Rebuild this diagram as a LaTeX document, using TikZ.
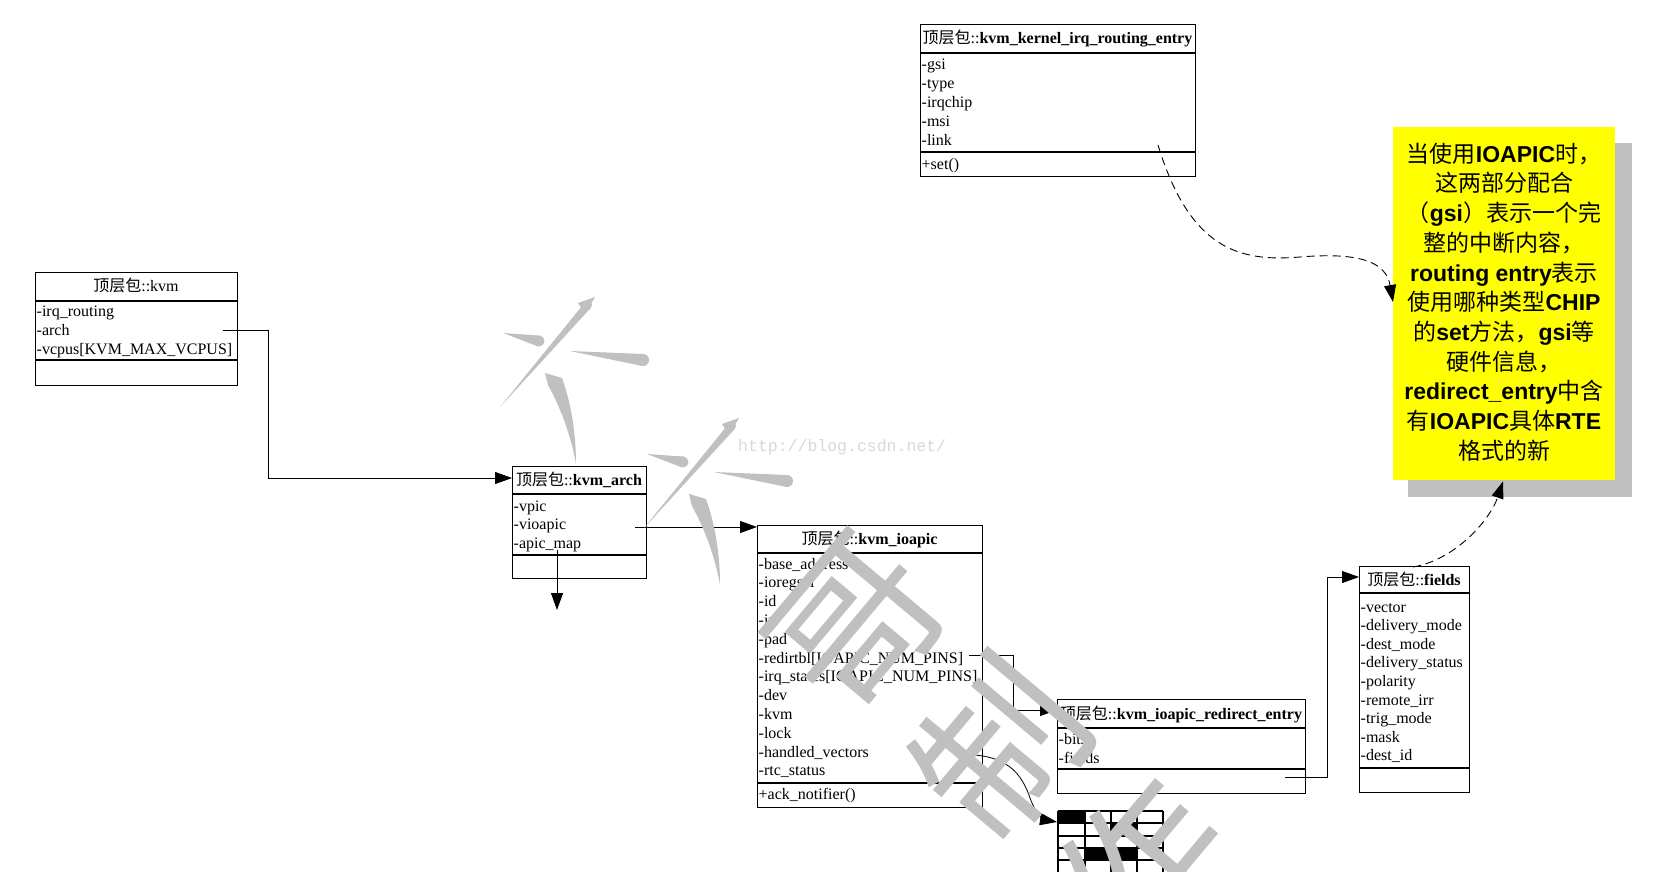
\documentclass[tikz,border=0pt]{standalone}
\usepackage{fontspec}
\setmainfont{Liberation Serif}
\newfontfamily\cjk{Noto Sans CJK SC}
\newfontfamily\arialf{Liberation Sans}
\newfontfamily\monof{Liberation Mono}
\usetikzlibrary{arrows.meta,calc}
\definecolor{wmgray}{HTML}{C0C0C0}
\definecolor{notey}{HTML}{FFFF00}
\definecolor{shad}{HTML}{C0C0C0}
\definecolor{urlgray}{HTML}{D9D9D9}
\newcommand\hd[1]{{\cjk 顶层包}::#1}
\newcommand\lb[1]{{\arialf\bfseries #1}}
\newcommand\attrlist[5]{\foreach \itemtxt [count=\i] in {#5} {\node[attr] (#1-\i) at (#2, {#3+(\i-1)*#4}) {\itemtxt};}}
\newcommand\taper[3]{\fill[wm] #1 -- ($#2!#3!90:#1$) -- ($#2!#3!-90:#1$) -- cycle; \fill[wm] #2 circle (#3);}
\begin{document}
\begin{tikzpicture}[x=1pt,y=-1pt,
  umlbox/.style={draw=black, line width=1.2pt, inner sep=0pt, anchor=north west},
  sepline/.style={line width=1.1pt},
  attr/.style={anchor=base west, inner sep=0pt, font=\fontsize{16}{19}\selectfont},
  hdr/.style={anchor=base, inner sep=0pt, font=\fontsize{16}{19}\selectfont},
  conn/.style={line width=0.9pt, -{Triangle[length=17pt,width=12pt]}},
  dconn/.style={conn, dash pattern=on 8pt off 5pt},
  wm/.style={fill=wmgray, draw=none},
  wmtext/.style={rotate=50, inner sep=0pt, text=wmgray, font=\cjk\fontsize{165}{165}\selectfont},
]
\useasboundingbox (0,0) rectangle (1667,872);
\fill[white] (0,0) rectangle (1667,872);

% ---------- kvm ----------
\node[umlbox, minimum width=202pt, minimum height=113pt] (kvm) at (35,272) {};
\draw[sepline] (35,301) -- (237,301);
\draw[sepline] (35,360) -- (237,360);
\node[hdr] (kvm-h) at (136,291.5) {\hd{kvm}};
\attrlist{kvm}{36.5}{316}{19}{-irq\_routing,-arch,{-vcpus[KVM\_MAX\_VCPUS]}}

% ---------- kvm_arch ----------
\node[umlbox, minimum width=134pt, minimum height=112pt] (arch) at (512,466) {};
\draw[sepline] (512,494) -- (646,494);
\draw[sepline] (512,555) -- (646,555);
\node[hdr] (arch-h) at (579,485.5) {\hd{\textbf{kvm\_arch}}};
\attrlist{arch}{513.5}{511}{18.6}{-vpic,-vioapic,-apic\_map}

% ---------- kvm_ioapic ----------
\node[umlbox, minimum width=225pt, minimum height=282pt] (ioapic) at (757,525) {};
\draw[sepline] (757,553) -- (982,553);
\draw[sepline] (757,783) -- (982,783);
\node[hdr] (ioapic-h) at (869.5,544.5) {\hd{\textbf{kvm\_ioapic}}};
\attrlist{ioapic}{758.5}{569}{18.8}{-base\_address,-ioregsel,-id,-irr,-pad,{-redirtbl[IOAPIC\_NUM\_PINS]},{-irq\_states[IOAPIC\_NUM\_PINS]},-dev,-kvm,-lock,-handled\_vectors,-rtc\_status}
\node[attr] (ioapic-m) at (758.5,799.5) {+ack\_notifier()};

% ---------- kvm_kernel_irq_routing_entry ----------
\node[umlbox, minimum width=275pt, minimum height=152pt] (route) at (920,24) {};
\draw[sepline] (920,53) -- (1195,53);
\draw[sepline] (920,152) -- (1195,152);
\node[hdr] (route-h) at (1057.5,44) {\hd{\textbf{kvm\_kernel\_irq\_routing\_entry}}};
\attrlist{route}{921.5}{70}{18.8}{-gsi,-type,-irqchip,-msi,-link}
\node[attr] (route-m) at (921.5,169) {+set()};

% ---------- kvm_ioapic_redirect_entry ----------
\node[umlbox, minimum width=248pt, minimum height=94pt] (redir) at (1057,699) {};
\draw[sepline] (1057,728) -- (1305,728);
\draw[sepline] (1057,769) -- (1305,769);
\node[hdr] (redir-h) at (1181,719) {\hd{\textbf{kvm\_ioapic\_redirect\_entry}}};
\attrlist{redir}{1058.5}{744}{19}{-bits,-fields}

% ---------- fields ----------
\node[umlbox, minimum width=110pt, minimum height=226pt] (fields) at (1359,566) {};
\draw[sepline] (1359,593) -- (1469,593);
\draw[sepline] (1359,768) -- (1469,768);
\node[hdr] (fields-h) at (1414,585) {\hd{\textbf{fields}}};
\attrlist{fields}{1360.5}{612}{18.6}{-vector,-delivery\_mode,-dest\_mode,-delivery\_status,-polarity,-remote\_irr,-trig\_mode,-mask,-dest\_id}

% ---------- note ----------
\node[fill=shad, minimum width=224pt, minimum height=354pt, anchor=north west, inner sep=0pt] (noteshadow) at (1408,143) {};
\node[fill=notey, minimum width=222pt, minimum height=353pt, anchor=north west, inner sep=0pt] (note) at (1393,127) {};
\node[anchor=center, align=center, inner sep=0pt, font=\cjk\fontsize{23}{29.7}\selectfont] (notetext) at (1504,302) {当使用\lb{IOAPIC}时，\\这两部分配合\\（\lb{gsi}）表示一个完\\整的中断内容，\\\lb{routing entry}表示\\使用哪种类型\lb{CHIP}\\的\lb{set}方法，\lb{gsi}等\\硬件信息，\\\lb{redirect\_entry}中含\\有\lb{IOAPIC}具体\lb{RTE}\\格式的新};

% ---------- grid ----------
\node[inner sep=0pt, minimum width=105pt, minimum height=62pt, anchor=north west] (grid) at (1058,811) {};
\fill[black] (1058,811) rectangle (1085,823);
\fill[black] (1111,823) rectangle (1137,836);
\fill[black] (1085,848) rectangle (1137,860);
\foreach \gy in {811,823,836,848,860} \draw[line width=1.1pt] (1058,\gy) -- (1163,\gy);
\foreach \gx in {1058,1085,1111,1137,1163} \draw[line width=1.1pt] (\gx,811) -- (\gx,875);

% ---------- connectors ----------
\coordinate (c1s) at (223,330);
\draw[conn] (c1s) -- (268,330) |- ($(arch.north west)+(0,12)$);
\coordinate (c2s) at (635,527);
\draw[conn] (c2s) -- ($(ioapic.north west)+(0,2)$);
\coordinate (c3s) at (557,550);
\coordinate (c3e) at (557,610);
\draw[conn] (c3s) -- (c3e);
\coordinate (c4s) at (969,655);
\draw[conn] (c4s) -| (1013,710) -- ($(redir.north west)+(0,11)$);
\coordinate (c5s) at (957,755);
\draw[conn, line width=0.8pt] (c5s) .. controls (1008,752) and (1022,775) .. (1030,798) .. controls (1036,815) and (1045,820) .. ($(grid.north west)+(-1,11)$);
\coordinate (c6s) at (1285,777);
\draw[conn] (c6s) -| (1327,577) -- ($(fields.north west)+(0,11)$);
\coordinate (c7s) at (1158,145);
\draw[dconn] (c7s) .. controls (1190,250) and (1240,262) .. (1300,257) .. controls (1360,252) and (1386,262) .. ($(note.north west)+(0,175)$);
\coordinate (c8s) at (1413,567);
\draw[dconn] (c8s) .. controls (1455,560) and (1490,520) .. ($(note.south west)+(110,1)$);

% ---------- watermark ----------
\node[anchor=west, inner sep=0pt, font=\monof\fontsize{16.5}{18}\selectfont, text=urlgray] (url) at (738,447) {http://blog.csdn.net/};
\foreach \sx/\sy in {0/0,144/121}{
\begin{scope}[shift={(\sx,\sy)}]
\taper{(503,333)}{(539,341)}{5.5pt}
\taper{(570,351)}{(643,360)}{6pt}
\taper{(500,407)}{(588,305)}{4pt}
\fill[wm] (578,303) -- (595,297) -- (585,314) -- cycle;
\fill[wm] (545,373) -- (562,378) .. controls (570,400) and (576,430) .. (576,464) .. controls (572,440) and (562,410) .. (548,385) -- cycle;
\end{scope}}
\node[wmtext] (wm3) at (858,626) {哥};
\node[wmtext] (wm4) at (1000,748) {制};
\node[wmtext] (wm5) at (1144,868) {作};
\end{tikzpicture}
\end{document}
